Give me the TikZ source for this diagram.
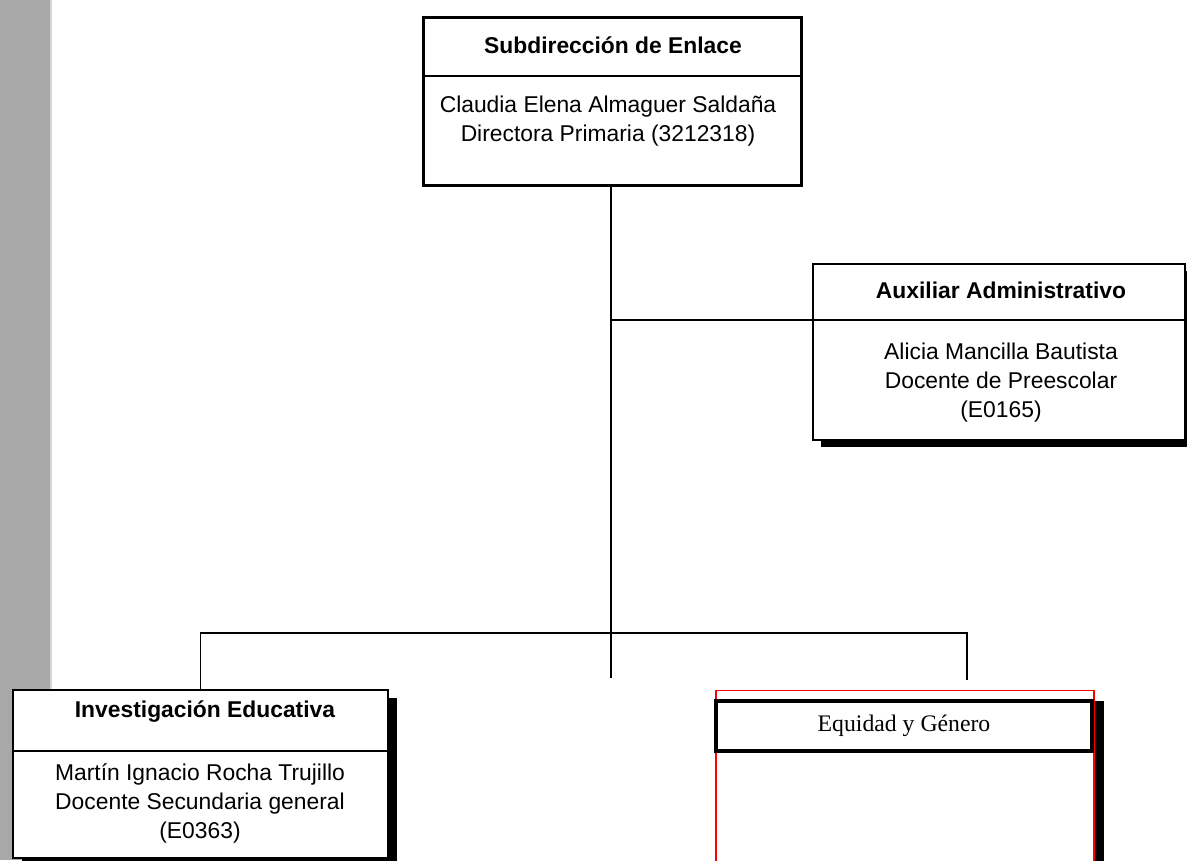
\documentclass[tikz,border=0pt]{standalone}
\usepackage{fontspec}
\setmainfont{Liberation Sans}
\newfontfamily\serifont{Liberation Serif}
\begin{document}
\begin{tikzpicture}[x=0.02cm,y=-0.02cm,
  box/.style={draw=black,fill=white,rectangle,inner sep=0pt},
  shadowbox/.style={fill=black,draw=none,rectangle,inner sep=0pt},
  ttl/.style={font=\fontsize{13}{15}\selectfont\bfseries,inner sep=0pt},
  bdy/.style={font=\fontsize{13}{16.5}\selectfont,align=center,inner sep=0pt},
  conn/.style={draw=black,line width=0.9pt}]
\useasboundingbox (0,0) rectangle (1187,860);
\fill[fill={rgb,255:red,168;green,168;blue,168}] (0,0) rectangle (50,860);
\fill[fill={rgb,255:red,215;green,215;blue,215}] (50,0) rectangle (52,860);
% top box
\node[box,line width=1.7pt,minimum width=7.58cm,minimum height=3.38cm] (sub) at (612.5,101.5) {};
\draw[line width=0.9pt] (sub.west |- 0,76) -- (sub.east |- 0,76);
\node[ttl] (subt) at (613,45) {Subdirección de Enlace};
\node[bdy] (subb) at (608,121.5) {Claudia Elena Almaguer Saldaña\\Directora Primaria (3212318)};
% aux box
\node[shadowbox,minimum width=7.44cm,minimum height=3.52cm] (auxs) at (1007,359) {};
\node[box,line width=0.9pt,minimum width=7.44cm,minimum height=3.52cm] (aux) at (999,352) {};
\draw[line width=0.9pt] (aux.west |- 0,320) -- (aux.east |- 0,320);
\node[ttl] (auxt) at (1001,290) {Auxiliar Administrativo};
\node[bdy] (auxb) at (1001,383) {Alicia Mancilla Bautista\\Docente de Preescolar\\(E0165)};
% investigacion box
\node[shadowbox,minimum width=7.5cm,minimum height=3.36cm] (invs) at (209.5,782) {};
\node[box,line width=0.9pt,minimum width=7.5cm,minimum height=3.36cm] (inv) at (200.5,774) {};
\draw[line width=0.9pt] (inv.west |- 0,751) -- (inv.east |- 0,751);
\node[ttl] (invt) at (205,712) {Investigación Educativa};
\node[bdy] (invb) at (200,803) {Martín Ignacio Rocha Trujillo\\Docente Secundaria general\\(E0363)};
% equidad box
\node[shadowbox,minimum width=0.22cm,minimum height=3.3cm] (eqs) at (1098.5,783) {};
\node[box,draw=red,line width=0.8pt,minimum width=7.56cm,minimum height=3.5cm] (eq) at (905,778) {};
\node[box,line width=2.2pt,minimum width=7.52cm,minimum height=1.0cm] (eqh) at (904,726) {};
\node[font=\serifont\fontsize{13.5}{15}\selectfont,inner sep=0pt] (eqt) at (904,726) {Equidad y Género};
% connectors
\coordinate (jv) at (611,678);
\coordinate (ja) at (611,320);
\coordinate (hr) at (967,633);
\coordinate (es) at (967,680);
\draw[conn] (611,186) -- (jv);
\draw[conn] (ja) -- (ja -| aux.west);
\draw[conn] (inv.north) |- (hr) -- (es);
\end{tikzpicture}
\end{document}
